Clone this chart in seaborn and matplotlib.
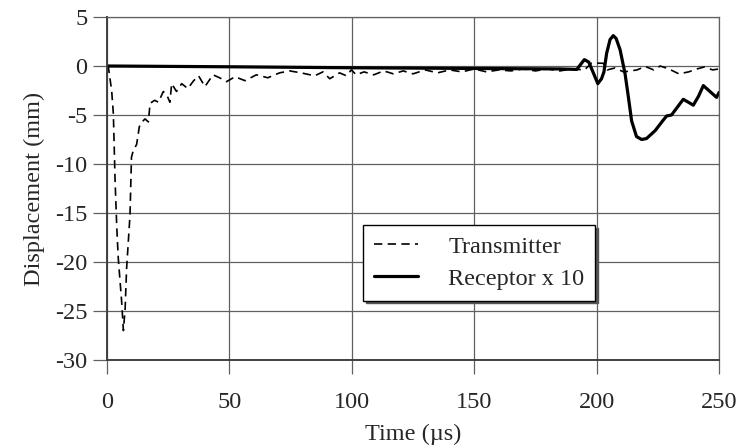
import matplotlib
matplotlib.use("Agg")
import matplotlib.pyplot as plt
import seaborn as sns
import numpy as np

# ---- data ----
t_tx = [0, 0.5, 1.9, 2.6, 3.3, 4.0, 4.6, 6.0, 6.7, 7.4,
        8.0, 9.4, 10.0, 10.7, 12.1, 13.2, 14.0, 15.5, 16.9, 17.6,
        19.5, 21.0, 23.0, 24.5, 25.7, 26.4, 28.4, 30.5, 33.0, 35.4,
        37.4, 40.0, 43.3, 46.0, 48.8, 52.3, 56.4, 61.0, 65.7, 70.5,
        74.6, 79.3, 84.8, 88.2, 91.0, 95.0, 97.8, 99.8, 101.8, 105,
        109, 113, 117, 121, 125, 130, 135, 140, 145, 150,
        155, 160, 165, 170, 175, 180, 185, 190, 195, 198,
        202.7, 204.4, 207.5, 211, 214, 216.5, 219.9, 223.3, 226, 229.5,
        233.6, 237.6, 241, 244, 247.4, 250]
y_tx = [0, 0, -2.5, -4.9, -11.7, -16.5, -19.6, -24.1, -27.0, -24.8,
        -20.7, -15.2, -9.3, -8.65, -8.0, -6.2, -5.8, -5.4, -5.7, -3.8,
        -3.5, -3.7, -2.6, -3.0, -3.7, -1.8, -2.6, -1.8, -2.3, -1.5,
        -1.0, -2.1, -0.9, -1.2, -1.6, -1.1, -1.5, -0.9, -1.2, -0.7,
        -0.5, -0.7, -1.0, -0.6, -1.3, -0.7, -1.0, -0.4, -0.9, -0.6,
        -0.9, -0.5, -0.8, -0.5, -0.8, -0.4, -0.7, -0.4, -0.6, -0.3,
        -0.6, -0.4, -0.5, -0.3, -0.5, -0.3, -0.5, -0.3, -0.4, 0.3,
        0.28, -0.4, -0.2, -0.6, -0.5, -0.4, -0.05, -0.4, 0.0, -0.3,
        -0.8, -0.6, -0.3, -0.1, -0.4, -0.3]

t_rx = [0, 50, 100, 150, 185, 191.9, 193.3, 195.0, 196.8, 198.5,
        200.5, 202.0, 203.0, 204.1, 205.5, 206.8, 208.0, 209.6, 211.6, 213.0,
        214.3, 216.3, 218.4, 220.4, 223.9, 227.3, 228.6, 230.6, 232.7, 235.4,
        237.5, 239.5, 241.6, 243.6, 246.3, 249.0, 250]
y_rx = [0, -0.08, -0.18, -0.25, -0.3, -0.35, 0.1, 0.65, 0.4, -0.6,
        -1.8, -1.3, -0.6, 1.3, 2.7, 3.1, 2.8, 1.65, -0.75, -3.2,
        -5.6, -7.2, -7.5, -7.4, -6.6, -5.5, -5.1, -5.0, -4.3, -3.4,
        -3.7, -4.0, -3.1, -2.0, -2.6, -3.2, -2.7]

x_ticks = [0, 50, 100, 150, 200, 250]
y_ticks = [5, 0, -5, -10, -15, -20, -25, -30]
x_label = "Time (\u00b5s)"
y_label = "Displacement (mm)"
labels = ["Transmitter", "Receptor x 10"]

# ---- style ----
sns.set_style("white")
plt.rcParams["font.family"] = ["Liberation Serif", "DejaVu Serif"]

FS = 17.5
fig = plt.figure(figsize=(7.42, 4.48), dpi=100)
ax = fig.add_axes([107 / 742, 1 - 360 / 448, (719 - 107) / 742, (360 - 17) / 448])

sns.lineplot(x=t_tx, y=y_tx, ax=ax, color="black", linewidth=1.2,
             linestyle=(0, (5, 3.2)), estimator=None, sort=False, label=labels[0])
sns.lineplot(x=t_rx, y=y_rx, ax=ax, color="black", linewidth=2.3,
             estimator=None, sort=False, label=labels[1])

ax.set_xlim(0, 250)
ax.set_ylim(-30, 5)
ax.set_xticks(x_ticks)
ax.set_yticks(y_ticks)
ax.set_xticklabels([str(v) for v in x_ticks])
ax.set_yticklabels([str(v) for v in y_ticks])

ax.grid(True, color="#606060", linewidth=0.9)
ax.set_axisbelow(True)
for side in ["top", "right"]:
    ax.spines[side].set_color("#606060")
    ax.spines[side].set_linewidth(0.9)
for side in ["left", "bottom"]:
    ax.spines[side].set_color("#404040")
    ax.spines[side].set_linewidth(1.4)

ax.tick_params(axis="y", direction="out", length=10, width=0.9, color="#606060",
               labelsize=FS, pad=4, left=True)
ax.tick_params(axis="x", direction="out", length=10, width=0.9, color="#606060",
               labelsize=FS, pad=13, bottom=True)
ax.set_xlabel(x_label, fontsize=FS, labelpad=8)
ax.set_ylabel(y_label, fontsize=FS, labelpad=7)

leg = ax.legend(loc="upper left", bbox_to_anchor=(363 / 742, 1 - 225 / 448),
                bbox_transform=fig.transFigure, borderaxespad=0,
                frameon=True, fancybox=False, shadow={"color": "#555555", "alpha": 1},
                edgecolor="black", framealpha=1, fontsize=FS,
                handlelength=1.8, handletextpad=1.25, borderpad=0.45,
                labelspacing=0.4)
leg.get_frame().set_linewidth(1.0)

fig.savefig("out.png", dpi=100)
